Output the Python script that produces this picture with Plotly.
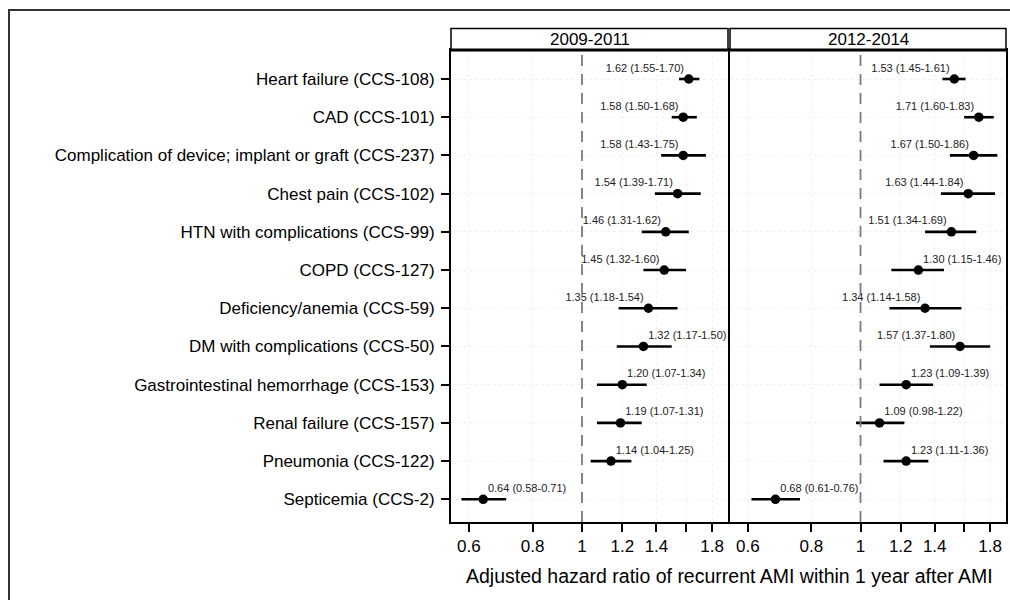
import plotly.graph_objects as go

categories = [
    "Heart failure (CCS-108)",
    "CAD (CCS-101)",
    "Complication of device; implant or graft (CCS-237)",
    "Chest pain (CCS-102)",
    "HTN with complications (CCS-99)",
    "COPD (CCS-127)",
    "Deficiency/anemia (CCS-59)",
    "DM with complications (CCS-50)",
    "Gastrointestinal hemorrhage (CCS-153)",
    "Renal failure (CCS-157)",
    "Pneumonia (CCS-122)",
    "Septicemia (CCS-2)",
]

periods = ["2009-2011", "2012-2014"]

hr_2009 = [1.62, 1.58, 1.58, 1.54, 1.46, 1.45, 1.35, 1.32, 1.20, 1.19, 1.14, 0.64]
lo_2009 = [1.55, 1.50, 1.43, 1.39, 1.31, 1.32, 1.18, 1.17, 1.07, 1.07, 1.04, 0.58]
hi_2009 = [1.70, 1.68, 1.75, 1.71, 1.62, 1.60, 1.54, 1.50, 1.34, 1.31, 1.25, 0.71]

hr_2012 = [1.53, 1.71, 1.67, 1.63, 1.51, 1.30, 1.34, 1.57, 1.23, 1.09, 1.23, 0.68]
lo_2012 = [1.45, 1.60, 1.50, 1.44, 1.34, 1.15, 1.14, 1.37, 1.09, 0.98, 1.11, 0.61]
hi_2012 = [1.61, 1.83, 1.86, 1.84, 1.69, 1.46, 1.58, 1.80, 1.39, 1.22, 1.36, 0.76]

x_tickvals = [0.6, 0.8, 1, 1.2, 1.4, 1.6, 1.8]
x_ticktext = ["0.6", "0.8", "1", "1.2", "1.4", "", "1.8"]

x_title = "Adjusted hazard ratio of recurrent AMI within 1 year after AMI"

# label placement styles (per row)
pos_2009 = ["top left"] * 7 + ["top right"] * 5
pos_2012 = ["top left"] * 5 + ["top right", "top left", "top left",
                                "top right", "top right", "top right", "top right"]

FONT = "Liberation Sans, Arial, sans-serif"
W, H = 1010, 600

fig = go.Figure()

series = [
    (hr_2009, lo_2009, hi_2009, pos_2009, "x", "y"),
    (hr_2012, lo_2012, hi_2012, pos_2012, "x2", "y2"),
]
for hr, lo, hi, pos, xa, ya in series:
    labels = [f"{h:.2f} ({l:.2f}-{u:.2f})" for h, l, u in zip(hr, lo, hi)]
    fig.add_trace(go.Scatter(
        x=hr, y=categories, mode="markers",
        marker=dict(size=9.5, color="black"),
        error_x=dict(type="data", symmetric=False,
                     array=[u - h for h, u in zip(hr, hi)],
                     arrayminus=[h - l for h, l in zip(hr, lo)],
                     thickness=2.6, width=0, color="black"),
        xaxis=xa, yaxis=ya, showlegend=False, cliponaxis=False,
    ))
    fig.add_trace(go.Scatter(
        x=hr, y=categories, mode="markers+text",
        text=labels, textposition=pos,
        textfont=dict(family=FONT, size=11, color="#222"),
        marker=dict(size=6, color="black", opacity=0),
        xaxis=xa, yaxis=ya, showlegend=False, cliponaxis=False,
        hoverinfo="skip",
    ))

xr = [-0.257, 0.2865]
xcommon = dict(type="log", range=xr, tickvals=x_tickvals, ticktext=x_ticktext,
               ticks="outside", ticklen=8, tickwidth=1.5, tickcolor="black",
               tickfont=dict(family=FONT, size=17, color="black"),
               showline=True, mirror=True, linewidth=2, linecolor="black",
               showgrid=True, gridcolor="#f1f1f1", griddash="dot", gridwidth=1,
               zeroline=False, fixedrange=True)
yrange = [11.594, -0.759]
ycommon = dict(type="category", categoryorder="array", categoryarray=categories,
               range=yrange, showline=True, mirror=True, linewidth=2,
               linecolor="black", showgrid=True, gridcolor="#f1f1f1",
               griddash="dot", gridwidth=1, zeroline=False, fixedrange=True,
               domain=[78 / H, 1 - 50 / H])

fig.update_layout(
    width=W, height=H,
    margin=dict(l=0, r=0, t=0, b=0),
    paper_bgcolor="white", plot_bgcolor="white",
    font=dict(family=FONT, color="black"),
    xaxis=dict(xcommon, domain=[451 / W, 728 / W], anchor="y"),
    xaxis2=dict(xcommon, domain=[730 / W, 1006 / W], anchor="y2"),
    yaxis=dict(ycommon, anchor="x", ticks="outside", ticklen=8, tickwidth=1.5,
               tickcolor="black", ticklabelstandoff=3,
               tickfont=dict(family=FONT, size=17, color="black")),
    yaxis2=dict(ycommon, anchor="x2", ticks="", showticklabels=False, matches="y"),
)

# reference line at HR = 1
for xa, ya in [("x", "y"), ("x2", "y2")]:
    fig.add_shape(type="line", xref=xa, yref=f"{ya} domain", x0=1, x1=1, y0=0, y1=1,
                  line=dict(color="#7a7a7a", width=1.8, dash="11px,8px"))

# panel header strips
for xa, label in zip(["x", "x2"], periods):
    fig.add_shape(type="rect", xref=f"{xa} domain", yref="paper",
                  x0=0, x1=1, y0=1 - 50 / H, y1=1 - 28.5 / H,
                  line=dict(color="black", width=1.5), fillcolor="white")
    fig.add_shape(type="line", xref=f"{xa} domain", yref="paper",
                  x0=0, x1=1, y0=1 - 50 / H, y1=1 - 50 / H,
                  line=dict(color="black", width=3))
    fig.add_annotation(xref=f"{xa} domain", yref="paper", x=0.5, y=1 - 39.5 / H,
                       text=label, showarrow=False, xanchor="center", yanchor="middle",
                       font=dict(family=FONT, size=17, color="black"))

# shared x-axis title
fig.add_annotation(xref="paper", yref="paper", x=729 / W, y=1 - 576 / H,
                   text=x_title, showarrow=False, xanchor="center", yanchor="middle",
                   font=dict(family=FONT, size=19.5, color="black"))

# outer frame
fig.add_shape(type="rect", xref="paper", yref="paper",
              x0=9 / W, x1=1.05, y0=-0.05, y1=1 - 10 / H,
              line=dict(color="#333", width=2), layer="below")

fig.write_html("out.html")
